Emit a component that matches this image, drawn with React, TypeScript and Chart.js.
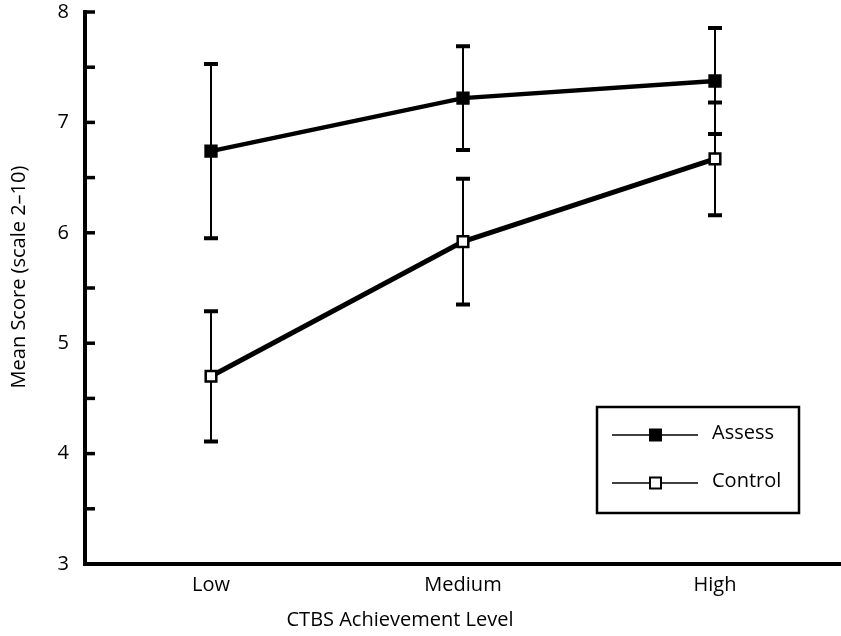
import React, { useEffect, useRef } from 'react';
import { Chart, registerables } from 'chart.js';

Chart.register(...registerables);

// Achievement groups on the horizontal axis
const levels = ['Low', 'Medium', 'High'];

// Group means and error-bar half-widths
const assessMeans = [6.74, 7.22, 7.375];
const assessErr = [0.79, 0.47, 0.48];
const controlMeans = [4.7, 5.92, 6.67];
const controlErr = [0.59, 0.57, 0.51];

const seriesNames = ['Assess', 'Control'];
const yTitle = 'Mean Score (scale 2–10)';
const xTitle = 'CTBS Achievement Level';

const FONT = '"Open Sans", "DejaVu Sans", sans-serif';
const FONT_SIZE = 20;
const INK = '#000';

const errorsByDataset = [assessErr, controlErr];

// Vertical error bars with flat caps, drawn beneath the line markers
const errorBarPlugin = {
  id: 'errorBars',
  beforeDatasetsDraw(chart: any) {
    const { ctx } = chart;
    const yScale = chart.scales.y;
    ctx.save();
    ctx.strokeStyle = INK;
    chart.data.datasets.forEach((ds: any, i: number) => {
      const meta = chart.getDatasetMeta(i);
      const errs = errorsByDataset[i];
      meta.data.forEach((pt: any, j: number) => {
        const v = ds.data[j];
        const top = yScale.getPixelForValue(v + errs[j]);
        const bot = yScale.getPixelForValue(v - errs[j]);
        ctx.lineWidth = 2;
        ctx.beginPath();
        ctx.moveTo(pt.x, top);
        ctx.lineTo(pt.x, bot);
        ctx.stroke();
        ctx.lineWidth = 4;
        ctx.beginPath();
        ctx.moveTo(pt.x - 7, top);
        ctx.lineTo(pt.x + 7, top);
        ctx.moveTo(pt.x - 7, bot);
        ctx.lineTo(pt.x + 7, bot);
        ctx.stroke();
      });
    });
    ctx.restore();
  },
};

// Inward tick marks on the value axis, axis titles and the boxed key
const decorPlugin = {
  id: 'decor',
  afterDraw(chart: any) {
    const { ctx, chartArea } = chart;
    const yScale = chart.scales.y;
    ctx.save();
    ctx.strokeStyle = INK;
    ctx.fillStyle = INK;
    ctx.lineWidth = 3.5;
    yScale.ticks.forEach((t: any) => {
      const y = yScale.getPixelForValue(t.value);
      ctx.beginPath();
      ctx.moveTo(chartArea.left, y);
      ctx.lineTo(chartArea.left + 10, y);
      ctx.stroke();
    });

    ctx.font = `${FONT_SIZE}px ${FONT}`;
    ctx.textAlign = 'center';
    ctx.textBaseline = 'middle';
    ctx.save();
    ctx.translate(19, 277);
    ctx.rotate(-Math.PI / 2);
    ctx.fillText(yTitle, 0, 0);
    ctx.restore();
    ctx.fillText(xTitle, 400, 620);

    // key box
    const bx = chartArea.right - 244;
    const by = chartArea.top + 395;
    const bw = 202;
    const bh = 106;
    ctx.lineWidth = 2.5;
    ctx.strokeRect(bx, by, bw, bh);
    const rows = [by + 28, by + 76];
    chart.data.datasets.forEach((ds: any, i: number) => {
      const y = rows[i];
      ctx.lineWidth = 1.5;
      ctx.beginPath();
      ctx.moveTo(bx + 15, y);
      ctx.lineTo(bx + 101, y);
      ctx.stroke();
      ctx.fillStyle = ds.pointBackgroundColor;
      ctx.fillRect(bx + 53, y - 5.5, 11, 11);
      ctx.lineWidth = 2;
      ctx.strokeRect(bx + 53, y - 5.5, 11, 11);
      ctx.fillStyle = INK;
      ctx.textAlign = 'left';
      ctx.fillText(ds.label, bx + 115, y - 2);
    });
    ctx.restore();
  },
};

// Keep the plot frame fixed regardless of label overhang
const fixPadding = (s: any) => {
  s.paddingTop = 0;
  s.paddingBottom = 0;
  s.paddingLeft = 0;
  s.paddingRight = 0;
};

export default function App() {
  const canvasRef = useRef<HTMLCanvasElement | null>(null);

  useEffect(() => {
    const canvas = canvasRef.current;
    if (!canvas) return;
    const chart = new Chart(canvas, {
      type: 'line',
      data: {
        labels: levels,
        datasets: [
          {
            label: seriesNames[0],
            data: assessMeans,
            borderColor: INK,
            borderWidth: 4.5,
            pointStyle: 'rect',
            pointRadius: 8,
            pointBackgroundColor: INK,
            pointBorderColor: INK,
            pointBorderWidth: 2,
            tension: 0,
          },
          {
            label: seriesNames[1],
            data: controlMeans,
            borderColor: INK,
            borderWidth: 5,
            pointStyle: 'rect',
            pointRadius: 7.5,
            pointBackgroundColor: '#fff',
            pointBorderColor: INK,
            pointBorderWidth: 2.5,
            tension: 0,
          },
        ],
      },
      options: {
        animation: false,
        responsive: false,
        events: [],
        layout: { autoPadding: false, padding: { top: 12, left: 0, right: 0, bottom: 0 } },
        plugins: {
          legend: { display: false },
          tooltip: { enabled: false },
          title: { display: false },
        },
        scales: {
          x: {
            type: 'category',
            offset: true,
            grid: { display: true, drawOnChartArea: false, drawTicks: false },
            border: { display: true, color: INK, width: 4 },
            ticks: { color: INK, font: { family: FONT, size: FONT_SIZE }, padding: 9 },
            afterFit: (s: any) => {
              s.height = 72;
              fixPadding(s);
            },
          },
          y: {
            min: 3,
            max: 8,
            grid: { display: true, drawOnChartArea: false, drawTicks: false },
            border: { display: true, color: INK, width: 4 },
            ticks: {
              stepSize: 0.5,
              color: INK,
              font: { family: FONT, size: FONT_SIZE },
              padding: 16,
              callback: (v: any) => (Number.isInteger(v) ? String(v) : ''),
            },
            afterFit: (s: any) => {
              s.width = 85;
              fixPadding(s);
            },
          },
        },
      },
      plugins: [errorBarPlugin, decorPlugin],
    });
    return () => chart.destroy();
  }, []);

  return (
    <div style={{ position: 'fixed', left: 0, top: 0, width: 841, height: 636, background: '#fff' }}>
      <canvas ref={canvasRef} width={841} height={636} />
    </div>
  );
}
